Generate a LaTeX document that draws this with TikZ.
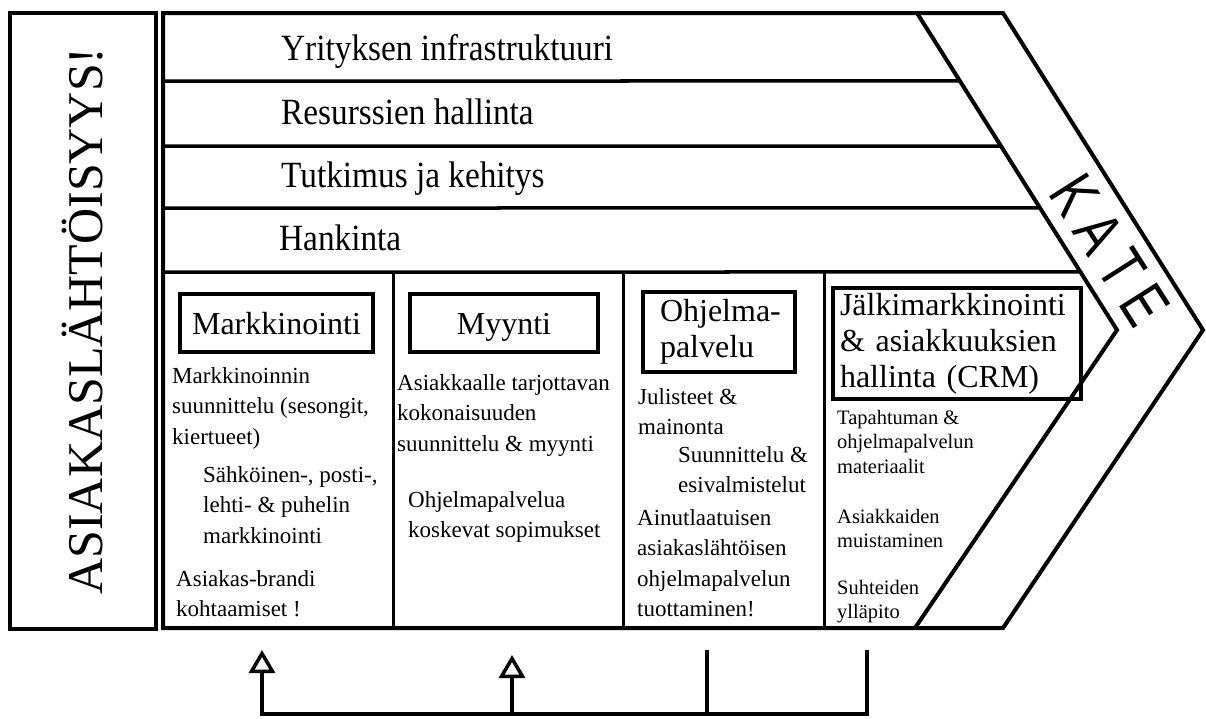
\documentclass[tikz,border=0pt]{standalone}
\usepackage{fontspec}
\setmainfont{Liberation Serif}
\newfontfamily\rowfont{Liberation Serif}[FakeStretch=0.9]
\newfontfamily\katefont{Liberation Sans}
\usetikzlibrary{arrows.meta,calc}

\begin{document}
\begin{tikzpicture}[x=1pt,y=-1pt,
  frame/.style={line width=4pt, line join=miter},
  sepline/.style={line width=3.5pt},
  coldiv/.style={line width=3pt},
  rowlabel/.style={anchor=base west, inner sep=0pt, font=\rowfont\fontsize{37}{40}\selectfont},
  headbox/.style={draw, line width=4pt, inner sep=0pt, align=center, font=\fontsize{32}{36}\selectfont},
  bodytext/.style={anchor=north west, inner sep=0pt, align=left, font=\fontsize{23}{30.5}\selectfont},
  smalltext/.style={anchor=north west, inner sep=0pt, align=left, font=\fontsize{20.5}{24.5}\selectfont},
  link/.style={line width=3.5pt},
  uparrow/.style={link, line join=miter, -{Triangle[open, length=23pt, width=26pt]}},
]
\useasboundingbox (0,0) rectangle (1206,718);
\fill[white] (0,0) rectangle (1206,718);

% customer focus bar on the left
\node[draw, line width=4pt, rotate=90, minimum width=616pt, minimum height=146pt, inner sep=0pt,
      font=\fontsize{50}{50}\selectfont] (focus) at (83,321) {ASIAKASLÄHTÖISYYS!};

% value chain outline with the margin chevron
\coordinate (oTL) at (163,13);
\coordinate (oT) at (1003,13);
\coordinate (oTip) at (1203,330);
\coordinate (oB) at (1003,628);
\coordinate (oBL) at (163,628);
\coordinate (iT) at (917,13);
\coordinate (iTip) at (1117,330);
\coordinate (iB) at (915,628);
\draw[frame] (oTL) -- (oT) -- (oTip) -- (oB) -- (oBL) -- cycle;
\draw[frame] (iT) -- (iTip) -- (iB);

% support activity rows
\foreach \y/\f in {81/0.2145, 146/0.4196, 208/0.6151, 272/0.8170}
  \draw[sepline] (163,\y) -- ($(iT)!\f!(iTip)$);

% primary activity columns
\foreach \x in {393,623,824}
  \draw[coldiv] (\x,272) -- (\x,628);

% support activity labels
\node[rowlabel] (infra) at (281,60) {Yrityksen infrastruktuuri};
\node[rowlabel] (hr) at (281,124) {Resurssien hallinta};
\node[rowlabel] (rd) at (281,187) {Tutkimus ja kehitys};
\node[rowlabel] (proc) at (279,250) {Hankinta};

% primary activity headers
\node[headbox, minimum width=193pt, minimum height=58pt, text height=22pt, text depth=0pt] (mk) at (276.5,323) {Markkinointi};
\node[headbox, minimum width=188pt, minimum height=58pt, text height=22pt, text depth=0pt] (my) at (504,323) {Myynti};
\node[headbox, align=left, text width=118pt, minimum width=152pt, minimum height=80pt] (op) at (719,332) {\mbox{Ohjelma-}\\palvelu};
\node[headbox, align=left, text width=234pt, minimum width=248pt, minimum height=111pt] (crm) at (957,343.5) {Jälkimarkkinointi\\\& asiakkuuksien\\hallinta (CRM)};

% marketing column
\node[bodytext] (m1) at (172,367) {Markkinoinnin\\suunnittelu (sesongit,\\kiertueet)};
\node[bodytext] (m2) at (203,466) {Sähköinen-, posti-,\\lehti- \& puhelin\\markkinointi};
\node[bodytext] (m3) at (176,570) {Asiakas-brandi\\kohtaamiset !};

% sales column
\node[bodytext] (s1) at (397,374) {Asiakkaalle tarjottavan\\kokonaisuuden\\suunnittelu \& myynti};
\node[bodytext] (s2) at (408,491) {Ohjelmapalvelua\\koskevat sopimukset};

% programme service column
\node[bodytext] (p1) at (638,388) {Julisteet \&\\mainonta};
\node[bodytext] (p2) at (678,446) {Suunnittelu \&\\esivalmistelut};
\node[bodytext] (p3) at (637,509) {Ainutlaatuisen\\asiakaslähtöisen\\ohjelmapalvelun\\tuottaminen!};

% after-marketing column
\node[smalltext] (c1) at (837,410) {Tapahtuman \&\\ohjelmapalvelun\\materiaalit};
\node[smalltext] (c2) at (837,509) {Asiakkaiden\\muistaminen};
\node[smalltext] (c3) at (837,580) {Suhteiden\\ylläpito};

% margin label along the chevron
\node[inner sep=0pt, rotate=-57.5, font=\katefont\fontsize{48}{48}\selectfont] (kate) at (1110,250)
  {\scalebox{1}[1.35]{K\kern12pt A\kern12pt T\kern12pt E}};

% feedback bracket below the chain
\coordinate (b1) at (262,714);
\coordinate (b2) at (512,714);
\coordinate (b3) at (707,714);
\coordinate (b4) at (867,714);
\coordinate (a1) at (262,650);
\coordinate (a2) at (512,655);
\coordinate (t3) at (707,650);
\coordinate (t4) at (867,650);
\draw[uparrow] (t4) -- (b4) -- (b1) -- (a1);
\draw[uparrow] (b2) -- (a2);
\draw[link] (b3) -- (t3);
\end{tikzpicture}
\end{document}
